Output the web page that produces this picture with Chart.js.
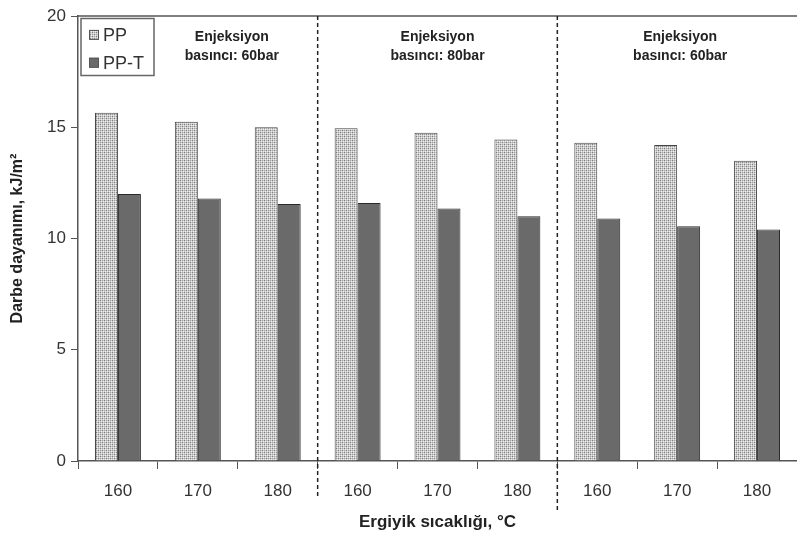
<!DOCTYPE html>
<html>
<head>
<meta charset="utf-8">
<script src="https://cdn.jsdelivr.net/npm/chart.js@4/dist/chart.umd.min.js"></script>
<style>
html,body{margin:0;padding:0;background:#fff;}
#wrap{width:797px;height:537px;position:relative;}
</style>
</head>
<body>
<div id="wrap"><canvas id="c" width="797" height="537"></canvas></div>
<script>
const categories = ['160','170','180','160','170','180','160','170','180'];
const ppValues  = [15.65, 15.25, 15.0, 14.95, 14.75, 14.45, 14.3, 14.2, 13.5];
const pptValues = [12.0, 11.8, 11.55, 11.6, 11.35, 11.0, 10.9, 10.55, 10.4];
const seriesNames = ['PP', 'PP-T'];
const groupLabels = [['Enjeksiyon','basıncı: 60bar'],['Enjeksiyon','basıncı: 80bar'],['Enjeksiyon','basıncı: 60bar']];
const yTicks = [0, 5, 10, 15, 20];
const xTitle = 'Ergiyik sıcaklığı, °C';
const yTitle = 'Darbe dayanımı, kJ/m²';
const FONT = '"Liberation Sans", Arial, sans-serif';
const labelShift = [34, 0, 3];

function makePattern(){
  const p = document.createElement('canvas');
  p.width = 4; p.height = 4;
  const g = p.getContext('2d');
  g.fillStyle = '#cacaca'; g.fillRect(0,0,4,4);
  g.fillStyle = '#7e7e7e';
  g.fillRect(0,0,1,1); g.fillRect(2,2,1,1);
  g.fillStyle = '#a2a2a2';
  g.fillRect(2,0,1,1); g.fillRect(0,2,1,1);
  g.fillStyle = '#ececec';
  g.fillRect(1,1,1,1); g.fillRect(3,3,1,1); g.fillRect(3,1,1,1); g.fillRect(1,3,1,1);
  return document.getElementById('c').getContext('2d').createPattern(p,'repeat');
}
const ppPattern = makePattern();
const pptColor = '#6a6a6a';

const decor = {
  id: 'decor',
  afterDatasetsDraw(chart){
    const ctx = chart.ctx, a = chart.chartArea, xs = chart.scales.x, ys = chart.scales.y;
    ctx.save();
    ctx.strokeStyle = '#555'; ctx.lineWidth = 1.5;
    ctx.beginPath(); ctx.moveTo(a.left, a.top); ctx.lineTo(a.right, a.top); ctx.stroke();
    ctx.strokeStyle = '#222'; ctx.lineWidth = 1.5; ctx.setLineDash([4,3]);
    [[2,3,497],[5,6,512]].forEach(([i,j,yb])=>{
      const x = (xs.getPixelForValue(i)+xs.getPixelForValue(j))/2;
      ctx.beginPath(); ctx.moveTo(x, a.top); ctx.lineTo(x, yb); ctx.stroke();
    });
    ctx.setLineDash([]);
    ctx.fillStyle = '#222'; ctx.font = 'bold 14px ' + FONT;
    ctx.textAlign = 'center'; ctx.textBaseline = 'middle';
    groupLabels.forEach((lines,k)=>{
      const x = xs.getPixelForValue(k*3+1) + labelShift[k];
      ctx.fillText(lines[0], x, ys.getPixelForValue(19.05));
      ctx.fillText(lines[1], x, ys.getPixelForValue(18.2));
    });
    const lx = a.left + 3, ly = a.top + 2.5;
    ctx.fillStyle = '#fff';
    ctx.fillRect(lx, ly, 73, 57);
    ctx.strokeStyle = '#666'; ctx.lineWidth = 1.5;
    ctx.strokeRect(lx, ly, 73, 57);
    const fills = [ppPattern, pptColor];
    const rowsY = [ys.getPixelForValue(19.15), ys.getPixelForValue(17.9)];
    ctx.font = '18px ' + FONT; ctx.textAlign = 'left'; ctx.textBaseline = 'middle';
    seriesNames.forEach((n,k)=>{
      const yy = rowsY[k];
      ctx.fillStyle = fills[k];
      ctx.fillRect(lx + 8, yy - 5, 10, 10);
      ctx.strokeStyle = '#555'; ctx.lineWidth = 1;
      ctx.strokeRect(lx + 8.5, yy - 4.5, 9, 9);
      ctx.fillStyle = '#333';
      ctx.fillText(n, lx + 22, yy + 1);
    });
    ctx.restore();
  }
};

new Chart(document.getElementById('c'), {
  type: 'bar',
  data: {
    labels: categories,
    datasets: [
      { label: seriesNames[0], data: ppValues, backgroundColor: ppPattern, borderColor: '#444', borderWidth: 1 },
      { label: seriesNames[1], data: pptValues, backgroundColor: pptColor, borderColor: '#2a2a2a', borderWidth: 1 }
    ]
  },
  options: {
    responsive: false,
    animation: false,
    layout: { padding: { top: 16, right: 0, left: 0, bottom: 0 } },
    datasets: { bar: { categoryPercentage: 0.575, barPercentage: 1.0 } },
    plugins: {
      legend: { display: false },
      tooltip: { enabled: false }
    },
    scales: {
      x: {
        grid: { drawOnChartArea: false, offset: true, tickLength: 8, color: '#555' },
        border: { color: '#555', width: 1.5 },
        ticks: { color: '#333', padding: 12, font: { size: 17, family: FONT } },
        title: { display: true, text: xTitle, color: '#222', padding: { top: 2 },
          font: { size: 17, weight: 'bold', family: FONT } },
        afterFit(s){ s.height = 76; }
      },
      y: {
        min: 0, max: 20,
        afterBuildTicks(s){ s.ticks = yTicks.map(v=>({value:v})); },
        grid: { drawOnChartArea: false, tickLength: 7, color: '#555' },
        border: { color: '#555', width: 1.5 },
        ticks: { color: '#333', padding: 5, font: { size: 17, family: FONT } },
        title: { display: true, text: yTitle, color: '#222', padding: { top: 8 },
          font: { size: 16, weight: 'bold', family: FONT } },
        afterFit(s){ s.width = 78; }
      }
    }
  },
  plugins: [decor]
});
</script>
</body>
</html>
